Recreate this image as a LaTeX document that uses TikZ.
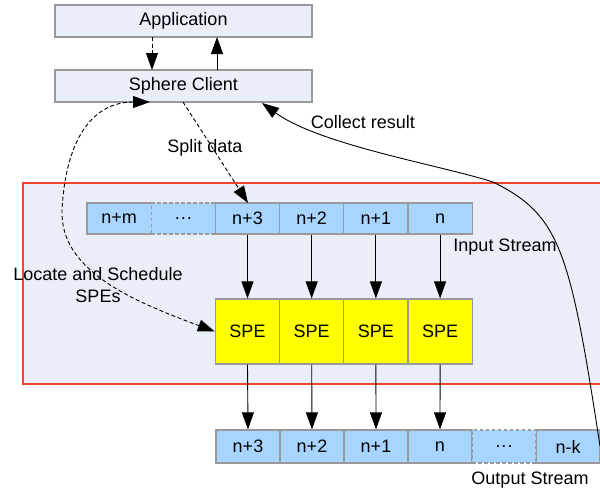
\documentclass[tikz,border=0pt]{standalone}
\usepackage{fontspec}
\setmainfont{Liberation Sans}
\usetikzlibrary{arrows.meta}
\definecolor{boxfill}{HTML}{E9EEF8}
\definecolor{boxline}{HTML}{999999}
\definecolor{cellfill}{HTML}{A8D5FF}
\definecolor{redline}{HTML}{F0452A}
\definecolor{spefill}{HTML}{FFFF00}
\begin{document}
\begin{tikzpicture}[x=1pt,y=-1pt,
  every node/.style={font=\fontsize{18}{22}\selectfont, inner sep=0pt},
  topbox/.style={draw=boxline, fill=boxfill, line width=1.2pt, minimum width=257pt, minimum height=32pt},
  cell/.style={draw=boxline, fill=cellfill, line width=1.2pt, minimum width=64.2pt, minimum height=31pt},
  ocell/.style={draw=boxline, fill=cellfill, line width=1.2pt, minimum width=64pt, minimum height=33pt},
  dcell/.style={dash pattern=on 3.5pt off 2.5pt},
  spebox/.style={draw=boxline, fill=spefill, line width=1.2pt, minimum width=64.2pt, minimum height=65pt},
  conn/.style={line width=0.9pt, -{Triangle[length=17pt,width=12pt]}},
  dconn/.style={conn, dash pattern=on 4pt off 2.5pt},
  lbl/.style={align=center}
]
\useasboundingbox (0,0) rectangle (600,491);
% red region
\path[draw=redline, fill=boxfill, line width=1.2pt] (23,183) rectangle (605,384);

% top boxes
\node[topbox] (app) at (183.5,21) {Application};
\node[topbox] (sc) at (183.5,86) {Sphere Client};

% input stream
\node[cell] (inm) at (119.1,218.5) {n+m};
\node[cell] (i3) at (247.5,218.5) {n+3};
\node[cell] (i2) at (311.7,218.5) {n+2};
\node[cell] (i1) at (375.9,218.5) {n+1};
\node[cell] (i0) at (440.1,218.5) {n};
\node[cell,dcell] (idots) at (183.3,218.5) {.\kern1pt.\kern1pt.};

% SPEs
\node[spebox] (s3) at (247.5,331.5) {SPE};
\node[spebox] (s2) at (311.7,331.5) {SPE};
\node[spebox] (s1) at (375.9,331.5) {SPE};
\node[spebox] (s0) at (440.1,331.5) {SPE};

% output stream
\node[ocell] (o3) at (248,446.5) {n+3};
\node[ocell] (o2) at (312,446.5) {n+2};
\node[ocell] (o1) at (376,446.5) {n+1};
\node[ocell] (o0) at (440,446.5) {n};
\node[ocell] (ok) at (568,446.5) {n-k};
\node[ocell,dcell] (odots) at (504,446.5) {.\kern1pt.\kern1pt.};

% labels
\node[lbl] (lin) at (505,247) {Input Stream};
\node[lbl] (lout) at (530,480) {Output Stream};
\node[lbl] (lsplit) at (205,148) {Split data};
\node[lbl] (lcoll) at (363,122) {Collect result};
\node[lbl] (lloc) at (98,285) {Locate and Schedule\\SPEs};

% coordinates
\coordinate (appd) at (152,37);
\coordinate (scd) at (152,70);
\coordinate (scu) at (217,70);
\coordinate (appu) at (217,37);
\coordinate (scs) at (183,102);
\coordinate (i3n) at (248,203);
\coordinate (scl) at (150,102);
\coordinate (scr) at (262,103);
\coordinate (okr) at (600,446);

% connectors
\draw[dconn] (appd) -- (scd);
\draw[conn] (scu) -- (appu);
\draw[dconn] (scs) -- (i3n);
\foreach \a/\b in {i3/s3, i2/s2, i1/s1, i0/s0, s3/o3, s2/o2, s1/o1, s0/o0}
  \draw[conn] (\a.south) -- (\b.north);
\draw[line width=0.9pt, dash pattern=on 4pt off 2.5pt, {Triangle[length=17pt,width=12pt]}-{Triangle[length=17pt,width=12pt]}]
  (scl) .. controls (95,102) and (66,135) .. (62,210)
  .. controls (60,270) and (130,300) .. (s3.west);
\draw[conn] (okr) .. controls (570,250) and (560,215) .. (493,182)
  .. controls (440,165) and (320,145) .. (scr);
\end{tikzpicture}
\end{document}
